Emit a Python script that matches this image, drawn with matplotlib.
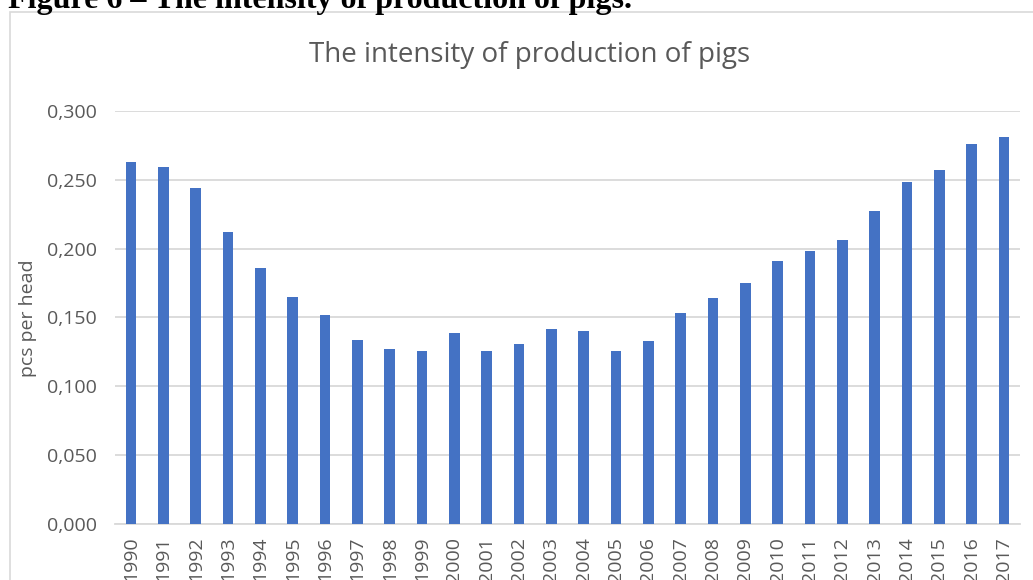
import matplotlib.pyplot as plt
from matplotlib.patches import Rectangle
from matplotlib.ticker import FuncFormatter
import numpy as np

years = [str(y) for y in range(1990, 2018)]
intensity = [0.263, 0.259, 0.244, 0.212, 0.186, 0.165, 0.152, 0.134, 0.127, 0.126,
             0.139, 0.126, 0.131, 0.142, 0.140, 0.126, 0.133, 0.153, 0.164, 0.175,
             0.191, 0.198, 0.206, 0.227, 0.248, 0.257, 0.276, 0.281]
y_ticks = [0.0, 0.05, 0.10, 0.15, 0.20, 0.25, 0.30]

BAR = "#4472C4"
GRID = "#d9d9d9"
TEXT = "#595959"

W, H = 1033, 580
fig = plt.figure(figsize=(W / 100, H / 100), dpi=100)
fig.patch.set_facecolor("white")

# chart frame (runs off the right and bottom edges)
fig.add_artist(Rectangle((10 / W, -0.2), 1.2, (H - 12) / H + 0.2,
                         transform=fig.transFigure, fill=False,
                         edgecolor=GRID, linewidth=1.2))

ax = fig.add_axes([115 / W, 1 - 524.3 / H, 905 / W, (524.3 - 110.7) / H])
x = np.arange(len(years))
ax.bar(x, intensity, width=0.33, color=BAR, zorder=3)

ax.set_xlim(-0.5, len(years) - 0.5)
ax.set_ylim(0, 0.3)
ax.set_yticks(y_ticks)
ax.yaxis.set_major_formatter(FuncFormatter(lambda v, p: f"{v:.3f}".replace(".", ",")))
ax.set_xticks(x)
ax.set_xticklabels(years, rotation=90, fontsize=14, color=TEXT, family="Open Sans")
for lab in ax.get_yticklabels():
    lab.set_fontsize(14)
    lab.set_color(TEXT)
    lab.set_family("Open Sans")

ax.grid(axis="y", color=GRID, linewidth=1.3, zorder=0)
for side in ["top", "right", "left"]:
    ax.spines[side].set_visible(False)
ax.spines["bottom"].set_color(GRID)
ax.spines["bottom"].set_linewidth(1.3)
ax.tick_params(axis="both", length=0)
ax.tick_params(axis="y", pad=13)
ax.tick_params(axis="x", pad=9)

fig.text(28 / W, 1 - 318 / H, "pcs per head", rotation=90, ha="center", va="center",
         fontsize=14, color=TEXT, family="Open Sans")

fig.text(529.5 / W, 1 - 62 / H, "The intensity of production of pigs",
         ha="center", va="baseline", fontsize=20, color=TEXT, family="Open Sans")

fig.text(8 / W, 1 - 8 / H, "Figure 6 \u2013 The intensity of production of pigs.",
         ha="left", va="baseline", fontsize=23, fontweight="bold",
         family="Liberation Serif", color="black")

fig.savefig("out.png", dpi=100)
